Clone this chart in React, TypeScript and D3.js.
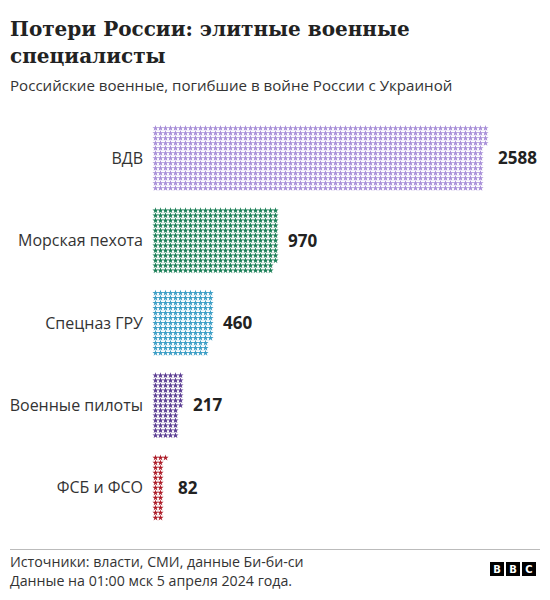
import React, { useEffect, useRef } from 'react'
import * as d3 from 'd3'

// Deaths per unit type
const categories = ['ВДВ', 'Морская пехота', 'Спецназ ГРУ', 'Военные пилоты', 'ФСБ и ФСО']
const deaths = [2588, 970, 460, 217, 82]
const colors = ['#a78ed8', '#1b7f57', '#3c9ec6', '#5b3d92', '#ae1f2b']

const PER_STAR = 3
const ROWS = 13

const titleLines = ['Потери России: элитные военные', 'специалисты']
const subtitle = 'Российские военные, погибшие в войне России с Украиной'
const sourceLines = ['Источники: власти, СМИ, данные Би-би-си', 'Данные на 01:00 мск 5 апреля 2024 года.']

const SANS = '"Open Sans", "Noto Sans", sans-serif'
const SERIF = '"DejaVu Serif", serif'

export default function App() {
  const svgRef = useRef<SVGSVGElement>(null)

  useEffect(() => {
    if (!svgRef.current) return
    const svg = d3.select(svgRef.current)
    svg.selectAll('*').remove()

    const width = 550
    const height = 600
    const pitch = 5

    svg.append('rect').attr('width', width).attr('height', height).attr('fill', '#fff')

    // heading
    svg
      .append('g')
      .selectAll('text')
      .data(titleLines)
      .join('text')
      .attr('x', 10)
      .attr('y', (_, i) => 36 + i * 27)
      .style('font-family', SERIF)
      .style('font-weight', '700')
      .style('font-size', '20px')
      .style('fill', '#222')
      .text((d) => d)

    svg
      .append('text')
      .attr('x', 10)
      .attr('y', 91)
      .style('font-family', SANS)
      .style('font-size', '15.1px')
      .style('fill', '#333')
      .text(subtitle)

    const y = d3
      .scaleBand<string>()
      .domain(categories)
      .range([117, 529])
      .paddingInner(0.2)
      .paddingOuter(0.1)

    const gridLeft = 153
    const col = d3.scaleLinear().domain([0, 1]).range([gridLeft + pitch / 2, gridLeft + pitch * 1.5])
    const star = d3.symbol().type(d3.symbolStar).size(12)

    const defs = svg.append('defs')

    categories.forEach((cat, ci) => {
      const total = deaths[ci] / PER_STAR
      const full = Math.floor(total)
      const frac = total - full
      const top = y(cat)! + (y.bandwidth() - ROWS * pitch) / 2
      const row = d3.scaleLinear().domain([0, 1]).range([top + pitch / 2, top + pitch * 1.5])
      const g = svg.append('g')

      const cells = d3.range(full).map((i) => ({ c: Math.floor(i / ROWS), r: i % ROWS }))
      g.selectAll('path.star')
        .data(cells)
        .join('path')
        .attr('class', 'star')
        .attr('d', star)
        .attr('transform', (d) => `translate(${col(d.c)},${row(d.r)})`)
        .attr('fill', colors[ci])

      // fractional last star, clipped from the left
      if (frac > 0) {
        const c = Math.floor(full / ROWS)
        const r = full % ROWS
        const cx = col(c)
        const cy = row(r)
        const id = `clip-${ci}`
        defs
          .append('clipPath')
          .attr('id', id)
          .append('rect')
          .attr('x', cx - 2.5)
          .attr('y', cy - 3)
          .attr('width', 5 * frac)
          .attr('height', 6)
        g.append('path')
          .attr('d', star)
          .attr('transform', `translate(${cx},${cy})`)
          .attr('fill', colors[ci])
          .attr('clip-path', `url(#${id})`)
      }

      const cols = Math.ceil(total / ROWS)
      const midY = y(cat)! + y.bandwidth() / 2

      svg
        .append('text')
        .attr('x', gridLeft - 10)
        .attr('y', midY)
        .attr('dy', '0.35em')
        .attr('text-anchor', 'end')
        .style('font-family', SANS)
        .style('font-size', '16px')
        .style('fill', '#333')
        .text(cat)

      svg
        .append('text')
        .attr('x', gridLeft + cols * pitch + 10)
        .attr('y', midY)
        .attr('dy', '0.35em')
        .style('font-family', SANS)
        .style('font-weight', '700')
        .style('font-size', '17px')
        .style('fill', '#222')
        .text(deaths[ci])
    })

    // footer
    svg
      .append('line')
      .attr('x1', 10)
      .attr('x2', 540)
      .attr('y1', 549.5)
      .attr('y2', 549.5)
      .attr('stroke', '#bbb')
      .attr('stroke-width', 1)

    svg
      .append('g')
      .selectAll('text')
      .data(sourceLines)
      .join('text')
      .attr('x', 10)
      .attr('y', (_, i) => 567 + i * 19)
      .style('font-family', SANS)
      .style('font-size', '14.2px')
      .style('fill', '#333')
      .text((d) => d)

    const logo = svg.append('g').attr('transform', 'translate(490,562)')
    ;['B', 'B', 'C'].forEach((l, i) => {
      logo
        .append('rect')
        .attr('x', i * 16)
        .attr('width', 14)
        .attr('height', 14)
        .attr('fill', '#000')
      logo
        .append('text')
        .attr('x', i * 16 + 7)
        .attr('y', 11)
        .attr('text-anchor', 'middle')
        .style('font-family', '"DejaVu Sans", sans-serif')
        .style('font-weight', '700')
        .style('font-size', '10px')
        .style('fill', '#fff')
        .text(l)
    })
  }, [])

  return (
    <div style={{ margin: -8 }}>
      <svg ref={svgRef} width={550} height={600} style={{ display: 'block' }} />
    </div>
  )
}
